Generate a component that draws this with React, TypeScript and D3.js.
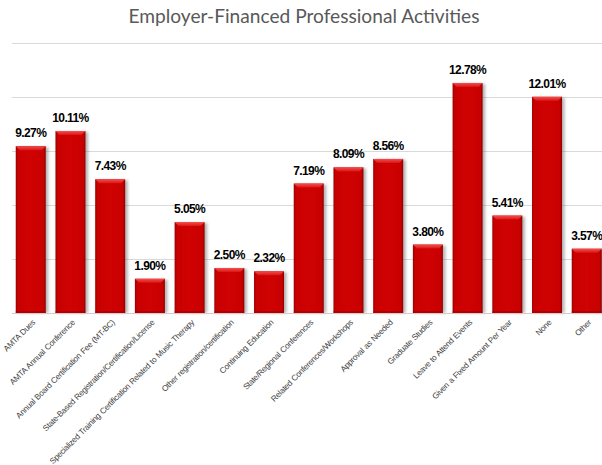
import React from "react";
import * as d3 from "d3";

const categories = [
  "AMTA Dues",
  "AMTA Annual Conference",
  "Annual Board Certification Fee (MT-BC)",
  "State-Based Registration/Certification/License",
  "Specialized Training Certification Related to Music Therapy",
  "Other registration/certification",
  "Continuing Education",
  "State/Regional Conferences",
  "Related Conferences/Workshops",
  "Approval as Needed",
  "Graduate Studies",
  "Leave to Attend Events",
  "Given a Fixed Amount Per Year",
  "None",
  "Other",
];
const values = [9.27, 10.11, 7.43, 1.9, 5.05, 2.5, 2.32, 7.19, 8.09, 8.56, 3.8, 12.78, 5.41, 12.01, 3.57];
const gridTicks = [0, 3, 6, 9, 12, 15];
const title = "Employer-Financed Professional Activities";

const W = 602;
const H = 465;
const plotLeft = 11;
const plotRight = 606.5;
const plotTop = 43;
const plotBottom = 313;

export default function App() {
  const x = d3
    .scaleBand<string>()
    .domain(categories)
    .range([plotLeft, plotRight])
    .paddingInner(0.245)
    .paddingOuter(0.12);
  const y = d3.scaleLinear().domain([0, 15]).range([plotBottom, plotTop]);
  const bw = x.bandwidth();

  return (
    <svg
      width={W}
      height={H}
      style={{ position: "absolute", left: 0, top: 0, background: "#fff" }}
    >
      <defs>
        <linearGradient id="barBody" x1="0" x2="1" y1="0" y2="0">
          <stop offset="0" stopColor="#9a0000" />
          <stop offset="0.07" stopColor="#c80000" />
          <stop offset="0.5" stopColor="#d00202" />
          <stop offset="0.93" stopColor="#c80000" />
          <stop offset="1" stopColor="#8c0000" />
        </linearGradient>
        <linearGradient id="barTop" x1="0" x2="0" y1="0" y2="1">
          <stop offset="0" stopColor="#f25050" />
          <stop offset="1" stopColor="#dc1414" />
        </linearGradient>
        <filter id="shadow" x="-30%" y="-10%" width="160%" height="120%">
          <feGaussianBlur stdDeviation="1.5" />
        </filter>
      </defs>

      <text
        x={W / 2 + 3}
        y={23}
        textAnchor="middle"
        fontFamily="'Lato', 'Open Sans', sans-serif"
        fontSize={20}
        fill="#595959"
        textLength={351}
        lengthAdjust="spacingAndGlyphs"
      >
        {title}
      </text>

      {gridTicks.map((t) => (
        <line
          key={t}
          x1={12}
          x2={W}
          y1={Math.round(y(t)) + 0.5}
          y2={Math.round(y(t)) + 0.5}
          stroke="#d9d9d9"
          strokeWidth={1}
        />
      ))}

      {categories.map((c, i) => {
        const x0 = x(c)!;
        const y0 = y(values[i]);
        const h = plotBottom - y0;
        const bev = 4;
        return (
          <g key={c}>
            <rect
              x={x0 + 1.5}
              y={y0 + 1}
              width={bw + 1}
              height={h - 1}
              fill="#555"
              opacity={0.45}
              filter="url(#shadow)"
            />
            <rect x={x0} y={y0} width={bw} height={h} fill="url(#barBody)" />
            <path
              d={`M${x0},${y0} L${x0 + bw},${y0} L${x0 + bw - bev},${y0 + bev} L${x0 + bev},${y0 + bev} Z`}
              fill="url(#barTop)"
            />
            <rect x={x0} y={plotBottom - 2} width={bw} height={2} fill="#a00000" opacity={0.6} />
            <text
              x={x0 + bw / 2}
              y={y0 - 9}
              textAnchor="middle"
              fontFamily="'Liberation Sans', Arial, sans-serif"
              fontWeight="bold"
              fontSize={12}
              letterSpacing={-0.6}
              fill="#000"
            >
              {values[i].toFixed(2)}%
            </text>
          </g>
        );
      })}

      <line x1={12} x2={W} y1={plotBottom + 0.5} y2={plotBottom + 0.5} stroke="#d9c8c8" />

      {categories.map((c) => {
        const cx = x(c)! + bw / 2 + 5;
        const cy = plotBottom + 10;
        return (
          <text
            key={c}
            transform={`translate(${cx},${cy}) rotate(-45)`}
            textAnchor="end"
            fontFamily="'Liberation Sans', Arial, sans-serif"
            fontSize={8.2}
            letterSpacing={-0.3}
            wordSpacing={0.6}
            fill="#404040"
          >
            {c}
          </text>
        );
      })}
    </svg>
  );
}
